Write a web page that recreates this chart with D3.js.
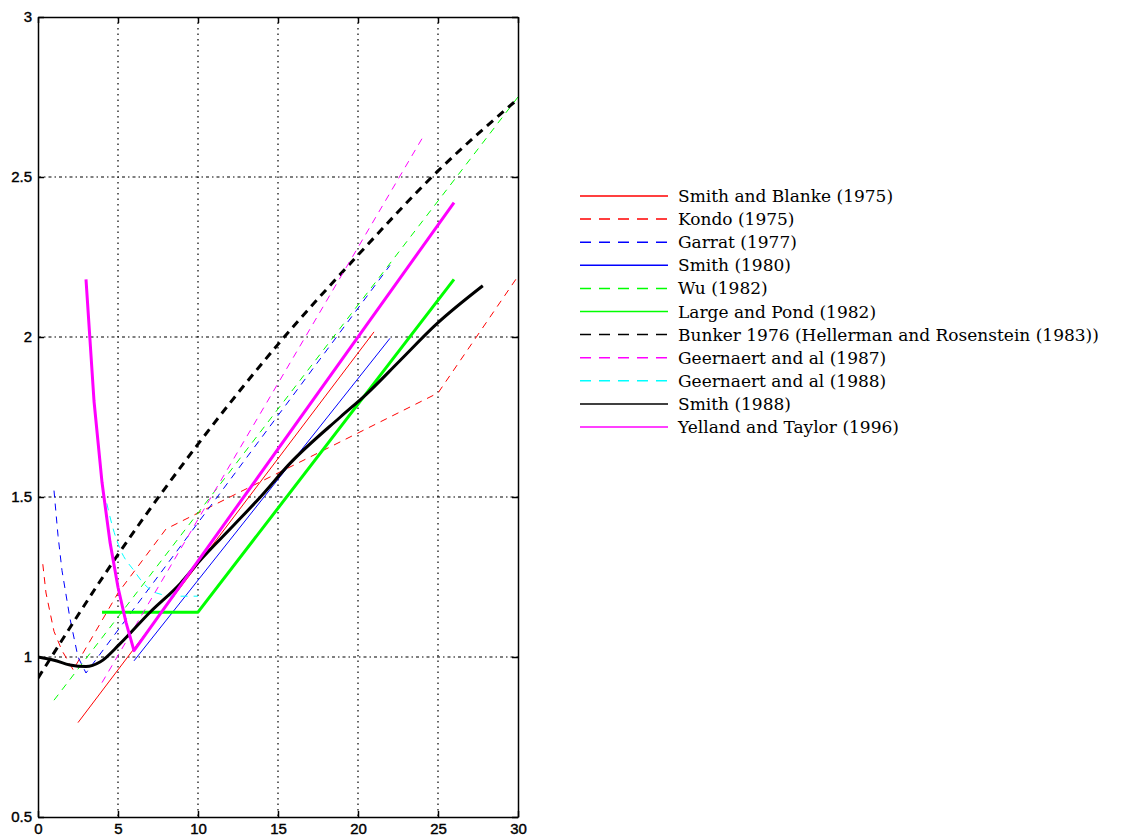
<!DOCTYPE html>
<html>
<head>
<meta charset="utf-8">
<script src="https://cdn.jsdelivr.net/npm/d3@7"></script>
<style>
  html, body { margin: 0; padding: 0; background: #fff; }
  svg { display: block; }
</style>
</head>
<body>
<svg id="chart" width="1121" height="838"></svg>
<script>
// ---- data (wind speed U m/s, 1000*Cd) ----
const xTicks = [0, 5, 10, 15, 20, 25, 30];
const yTicks = [0.5, 1, 1.5, 2, 2.5, 3];
const yTickLabels = ["0.5", "1", "1.5", "2", "2.5", "3"];

const smithBlanke1975 = [[2.5, 0.795], [21, 2.016]];
const kondo1975 = [[0.3, 1.29], [0.5, 1.2], [1, 1.08], [1.5, 1.02], [2.2, 0.96], [5, 1.2], [8, 1.4], [25, 1.825], [30, 2.19]];
const garratt1977 = [[1.0, 1.52], [1.25, 1.38], [1.5, 1.27], [2, 1.12], [2.5, 1.0], [3, 0.95], [22, 2.224]];
const smith1980 = [[6, 0.988], [22, 1.996]];
const wu1982 = [[1, 0.865], [30, 2.75]];
const largePond1982 = [[4, 1.14], [10, 1.14], [26, 2.18]];
const bunker1976 = [[0, 0.934], [5, 1.32], [10, 1.665], [15, 1.977], [20, 2.256], [25, 2.519], [30, 2.744]];
const geernaert1987 = [[4, 0.92], [24, 2.62]];
const geernaert1988 = [[4.3, 1.48], [4.7, 1.40], [5.2, 1.33], [6, 1.27], [6.6, 1.23], [7.4, 1.20], [8.6, 1.19], [10, 1.19]];
const smith1988 = [[0, 1.0], [1, 0.99], [2, 0.975], [3, 0.97], [3.9, 0.985], [5.1, 1.04], [7, 1.14], [8.9, 1.23], [10.1, 1.30], [12.2, 1.41], [13.9, 1.50], [15.75, 1.605], [18.9, 1.75], [20.5, 1.82], [22.6, 1.925], [24.9, 2.04], [27.8, 2.16]];
const yellandTaylor1996 = [[3, 2.18], [3.5, 1.8], [4, 1.546], [4.5, 1.359], [5, 1.218], [5.5, 1.108], [6, 1.02], [26, 2.42]];

const seriesNames = [
  "Smith and Blanke (1975)", "Kondo (1975)", "Garrat (1977)", "Smith (1980)", "Wu (1982)",
  "Large and Pond (1982)", "Bunker 1976 (Hellerman and Rosenstein (1983))",
  "Geernaert and al (1987)", "Geernaert and al (1988)", "Smith (1988)", "Yelland and Taylor (1996)"
];
const seriesData = [smithBlanke1975, kondo1975, garratt1977, smith1980, wu1982, largePond1982,
  bunker1976, geernaert1987, geernaert1988, smith1988, yellandTaylor1996];

// ---- styles ----
const styles = [
  { color: "#ff0000", dash: null, w: 1 },
  { color: "#ff0000", dash: "7,6", w: 1 },
  { color: "#0000ff", dash: "7,6", w: 1 },
  { color: "#0000ff", dash: null, w: 1 },
  { color: "#00ff00", dash: "7,6", w: 1 },
  { color: "#00ff00", dash: null, w: 3 },
  { color: "#000000", dash: "8,6", w: 3 },
  { color: "#ff00ff", dash: "7,6", w: 1 },
  { color: "#00ffff", dash: "7,6", w: 1 },
  { color: "#000000", dash: null, w: 3 },
  { color: "#ff00ff", dash: null, w: 3 }
];
const smoothSeries = [false, false, false, false, false, false, true, false, true, true, false];

const svg = d3.select("#chart");
const pLeft = 38, pRight = 518, pTop = 17, pBottom = 817;
const x = d3.scaleLinear().domain([0, 30]).range([pLeft, pRight]);
const y = d3.scaleLinear().domain([0.5, 3]).range([pBottom, pTop]);

// grid
const grid = svg.append("g");
grid.selectAll("line.vg").data(xTicks.slice(1, -1)).enter().append("line")
  .attr("x1", d => x(d)).attr("x2", d => x(d)).attr("y1", pTop).attr("y2", pBottom)
  .attr("stroke", "#000").attr("stroke-width", 1.2).attr("stroke-dasharray", "1.5,4");
grid.selectAll("line.hg").data(yTicks.slice(1, -1)).enter().append("line")
  .attr("x1", pLeft).attr("x2", pRight).attr("y1", d => y(d)).attr("y2", d => y(d))
  .attr("stroke", "#000").attr("stroke-width", 1.2).attr("stroke-dasharray", "3,3,1.5,3");

// series
const lineStraight = d3.line().x(d => x(d[0])).y(d => y(d[1]));
const lineSmooth = d3.line().x(d => x(d[0])).y(d => y(d[1])).curve(d3.curveMonotoneX);
svg.append("clipPath").attr("id", "clip").append("rect")
  .attr("x", pLeft).attr("y", pTop).attr("width", pRight - pLeft).attr("height", pBottom - pTop);
const plot = svg.append("g").attr("clip-path", "url(#clip)");
seriesData.forEach((data, i) => {
  const s = styles[i];
  plot.append("path").datum(data).attr("d", smoothSeries[i] ? lineSmooth : lineStraight)
    .attr("fill", "none").attr("stroke", s.color).attr("stroke-width", s.w)
    .attr("stroke-dasharray", s.dash).attr("stroke-linejoin", "round");
});

// axes (box with inward ticks)
const tickFont = "'Liberation Sans', Arial, sans-serif";
const axB = svg.append("g").attr("transform", `translate(0,${pBottom})`)
  .call(d3.axisBottom(x).tickValues(xTicks).tickSizeInner(-6).tickSizeOuter(0).tickPadding(6));
const axT = svg.append("g").attr("transform", `translate(0,${pTop})`)
  .call(d3.axisTop(x).tickValues(xTicks).tickSizeInner(-6).tickSizeOuter(0).tickFormat(""));
const axL = svg.append("g").attr("transform", `translate(${pLeft},0)`)
  .call(d3.axisLeft(y).tickValues(yTicks).tickFormat((d, i) => yTickLabels[i]).tickSizeInner(-6).tickSizeOuter(0).tickPadding(6));
const axR = svg.append("g").attr("transform", `translate(${pRight},0)`)
  .call(d3.axisRight(y).tickValues(yTicks).tickSizeInner(-6).tickSizeOuter(0).tickFormat(""));
[axB, axT, axL, axR].forEach(a => {
  a.select(".domain").attr("stroke", "#000").attr("stroke-width", 1.5);
  a.selectAll(".tick line").attr("stroke", "#000").attr("stroke-width", 1.5);
  a.selectAll("text").attr("fill", "#000").attr("font-family", tickFont)
    .attr("font-size", 15).attr("font-weight", "normal")
    .attr("stroke", "#000").attr("stroke-width", 0.4);
});

// legend
const legend = svg.append("g");
const ly0 = 196, ldy = 23.1;
seriesNames.forEach((name, i) => {
  const s = styles[i];
  const yy = ly0 + i * ldy;
  legend.append("line").attr("x1", 580).attr("x2", 668).attr("y1", yy).attr("y2", yy)
    .attr("stroke", s.color).attr("stroke-width", 1.5)
    .attr("stroke-dasharray", s.dash ? "11,8" : null);
  legend.append("text").attr("x", 678).attr("y", yy + 6).text(name)
    .attr("font-family", "'DejaVu Serif', serif").attr("font-size", 17).attr("fill", "#000");
});
</script>
</body>
</html>
